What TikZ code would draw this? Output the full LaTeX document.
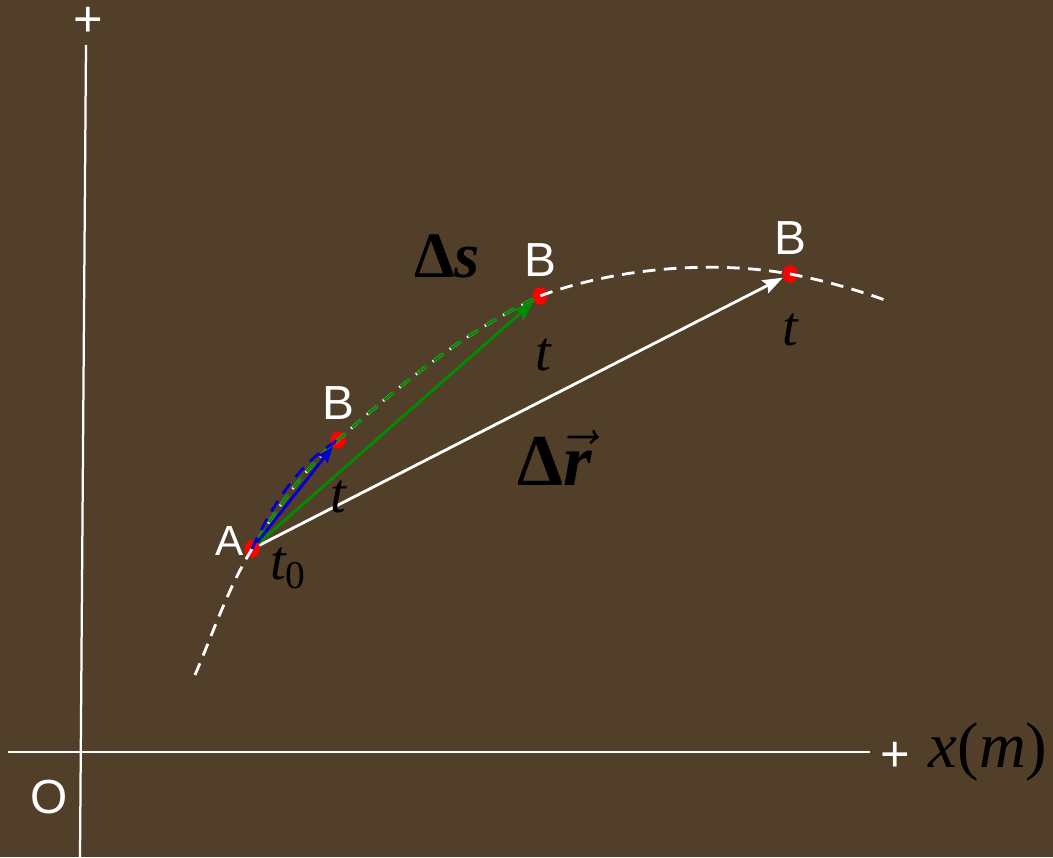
\documentclass[tikz,border=0pt]{standalone}
\usepackage{fix-cm}
\usepackage{fontspec}
\usepackage{amsmath}
\setmainfont{Liberation Sans}
\newfontfamily\timesf{Liberation Serif}
\usetikzlibrary{arrows.meta,positioning,shapes.geometric}
\definecolor{bgbrown}{RGB}{82,63,42}
\definecolor{pathgreen}{RGB}{0,140,0}
\definecolor{pathblue}{RGB}{0,0,200}

\begin{document}
\begin{tikzpicture}[
    x=0.025cm, y=-0.025cm, on grid,
    axis/.style={draw=white, line width=2pt},
    track/.style={line width=2pt, dash pattern=on 9pt off 6pt},
    dot/.style={ellipse, fill=red, inner sep=0pt, minimum width=0.38cm, minimum height=0.44cm},
    lbl/.style={text=white, font=\fontsize{34}{38}\selectfont, inner sep=0pt},
    sym/.style={text=black, font=\timesf\fontsize{40}{44}\selectfont\itshape, inner sep=0pt},
    vec/.style={-{Stealth[length=5mm, width=3.6mm, inset=0.8mm]}, line width=2pt}
]
\fill[bgbrown] (0,0) rectangle (1053,857);
\useasboundingbox (0,0) rectangle (1053,857);

\coordinate (xL) at (8,752);
\coordinate (xR) at (870,752);
\coordinate (yB) at (80,857);
\coordinate (yT) at (86,45);
\draw[axis] (xL) -- (xR);
\draw[axis, line width=1.6pt] (yB) -- (yT);

\node[lbl, font=\fontsize{36}{38}\selectfont] (plusY) at (88,22) {+};
\node[lbl, font=\fontsize{36}{38}\selectfont] (plusX) at (895,757) {+};
\node[lbl] (origin) at (49,797) {O};
\node[sym, font=\timesf\fontsize{46}{50}\selectfont] (xunit) at (988,752) {\textit{x}(\textit{m})};

\node[dot] (dotA) at (252,549) {};
\node[dot] (dotB1) at (338,440) {};
\node[dot] (dotB2) at (540,296) {};
\node[dot] (dotB3) at (790,274) {};

\draw[track, white] (195,675) .. controls (213,633) and (228,588) .. (dotA.center)
    .. controls (276,510) and (303,470) .. (dotB1.center)
    .. controls (400,385) and (465,331) .. (dotB2.center)
    .. controls (615,268) and (712,260) .. (dotB3.center)
    .. controls (822,280) and (854,289) .. (885,300);
\draw[track, pathgreen, dash phase=7.5pt] (dotA.center)
    .. controls (276,510) and (303,470) .. (dotB1.center)
    .. controls (400,385) and (465,331) .. (dotB2.center);
\draw[track, pathblue] (dotA.center) .. controls (270,510) and (296,465) .. (dotB1.center);

\draw[vec, white] (dotA) -- (dotB3);
\draw[vec, pathgreen] (dotA) -- (dotB2);
\draw[vec, pathblue, -{Stealth[length=4mm, width=3mm, inset=0.6mm]}] (dotA) -- (dotB1);

\node[lbl, font=\fontsize{30}{34}\selectfont, above left=0.2cm and 0.55cm of dotA] (labA) {A};
\node[lbl, above=0.92cm of dotB1] (labB1) {B};
\node[lbl, above=0.9cm of dotB2] (labB2) {B};
\node[lbl, above=0.9cm of dotB3] (labB3) {B};

\node[sym, below right=0.48cm and 0.9cm of dotA] (labT0) {$\text{t}_{\text{\upshape 0}}$};
\node[sym, below=1.43cm of dotB1] (labT1) {t};
\node[sym, below right=1.48cm and 0.08cm of dotB2] (labT2) {t};
\node[sym, below=1.4cm of dotB3] (labT3) {t};

\node[sym, font=\timesf\fontsize{46}{50}\selectfont\bfseries] (delS) at (447,256) {Δ\textit{s}};
\node[sym, font=\timesf\fontsize{52}{56}\selectfont\bfseries] (delR) at (555,458) {Δ$\vec{\text{\itshape r}}$};
\end{tikzpicture}
\end{document}
